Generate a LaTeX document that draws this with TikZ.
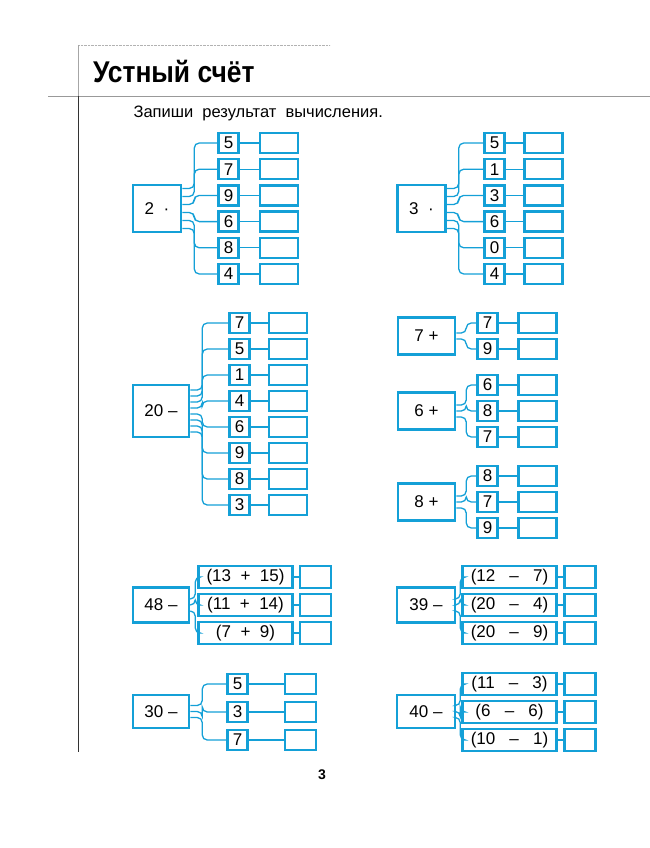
\documentclass[tikz,border=0pt]{standalone}
\usepackage{fontspec}
\setmainfont{Liberation Sans}
\usetikzlibrary{calc}
\definecolor{cb}{RGB}{20,160,215}
\newcommand\fan[5]{%
 \foreach \i in {1,...,#3}{%
   \pgfmathsetmacro\off{(\i-(#3+1)/2)*#4}%
   \draw[conn] ($(#1.east)+(0,\off)$) -- ++(#5,0) |- (#2\i.west);
 }}
\begin{document}
\begin{tikzpicture}[x=1pt,y=-1pt,
 box/.style={draw=cb,line width=2.5pt,font=\fontsize{17}{19}\selectfont,inner sep=0pt},
 nb/.style={box,minimum width=20pt,minimum height=20pt},
 ab/.style={box,minimum width=38pt,minimum height=20pt},
 eb/.style={box,minimum width=94pt,minimum height=22pt},
 sb/.style={box,minimum width=31pt,minimum height=22pt},
 conn/.style={draw=cb,line width=1.3pt,rounded corners=5pt}]
\useasboundingbox (0,0) rectangle (650,848);
% header
\draw[gray!60,densely dotted] (78,45) -- (330,45);
\draw[gray!70,line width=0.6pt] (78,45) -- (78,96);
\draw[gray!80,line width=0.8pt] (48,96) -- (650,96);
\draw[black!80,line width=0.8pt] (78,96) -- (78,752);
\node[anchor=west,font=\bfseries\fontsize{30}{32}\selectfont,xscale=0.88] (title) at (90,71) {Устный счёт};
\node[anchor=west,font=\fontsize{16.5}{18}\selectfont] (instr) at (130,113) {Запиши\ \ результат\ \ вычисления.};
% group 1
\node[box,minimum width=48pt,minimum height=47pt] (m1) at (157,208.5) {2\ \ ·};
\foreach \v [count=\i] in {5,7,9,6,8,4}{
 \node[nb] (a\i) at (228.5,{143+26.2*(\i-1)}) {\v};
 \node[ab] (aa\i) at (279,{143+26.2*(\i-1)}) {};
 \draw[conn] (a\i) -- (aa\i);}
\fan{m1}{a}{6}{8}{12}
% group 2
\node[box,minimum width=48pt,minimum height=47pt] (m2) at (421.5,208.5) {3\ \ ·};
\foreach \v [count=\i] in {5,1,3,6,0,4}{
 \node[nb] (b\i) at (494.5,{143+26.2*(\i-1)}) {\v};
 \node[ab] (bb\i) at (543.5,{143+26.2*(\i-1)}) {};
 \draw[conn] (b\i) -- (bb\i);}
\fan{m2}{b}{6}{8}{12}
% group 3
\node[box,minimum width=56pt,minimum height=52pt] (m3) at (161,411) {20 –};
\foreach \v [count=\i] in {7,5,1,4,6,9,8,3}{
 \node[nb] (c\i) at (239.5,{323+26*(\i-1)}) {\v};
 \node[ab] (cc\i) at (288,{323+26*(\i-1)}) {};
 \draw[conn] (c\i) -- (cc\i);}
\fan{m3}{c}{8}{6}{12}
% 7+
\node[box,minimum width=57pt,minimum height=37pt] (m4) at (426.5,336) {7 +};
\foreach \v [count=\i] in {7,9}{
 \node[nb] (d\i) at (487.5,{323+26*(\i-1)}) {\v};
 \node[ab] (dd\i) at (537.5,{323+26*(\i-1)}) {};
 \draw[conn] (d\i) -- (dd\i);}
\fan{m4}{d}{2}{6}{10}
% 6+
\node[box,minimum width=57pt,minimum height=37pt] (m5) at (426.5,411) {6 +};
\foreach \v [count=\i] in {6,8,7}{
 \node[nb] (e\i) at (487.5,{385+26*(\i-1)}) {\v};
 \node[ab] (ee\i) at (537.5,{385+26*(\i-1)}) {};
 \draw[conn] (e\i) -- (ee\i);}
\fan{m5}{e}{3}{6}{10}
% 8+
\node[box,minimum width=57pt,minimum height=37pt] (m6) at (426.5,502) {8 +};
\foreach \v [count=\i] in {8,7,9}{
 \node[nb] (f\i) at (487.5,{476+26*(\i-1)}) {\v};
 \node[ab] (ff\i) at (537.5,{476+26*(\i-1)}) {};
 \draw[conn] (f\i) -- (ff\i);}
\fan{m6}{f}{3}{6}{10}
% 48-
\node[box,minimum width=56pt,minimum height=35pt] (m7) at (161,605) {48 –};
\foreach \v [count=\i] in {{(13\ \ +\ \ 15)},{(11\ \ +\ \ 14)},{(7\ \ +\ \ 9)}}{
 \node[eb] (g\i) at (245.5,{577+28*(\i-1)}) {\v};
 \node[sb] (gg\i) at (315.5,{577+28*(\i-1)}) {};
 \draw[conn] (g\i) -- (gg\i);}
\fan{m7}{g}{3}{6}{5}
% 39-
\node[box,minimum width=58pt,minimum height=35pt] (m8) at (426,605) {39 –};
\foreach \v [count=\i] in {{(12\ \ \ –\ \ \ 7)},{(20\ \ \ –\ \ \ 4)},{(20\ \ \ –\ \ \ 9)}}{
 \node[eb] (h\i) at (509.5,{577+28*(\i-1)}) {\v};
 \node[sb] (hh\i) at (580,{577+28*(\i-1)}) {};
 \draw[conn] (h\i) -- (hh\i);}
\fan{m8}{h}{3}{6}{4}
% 30-
\node[box,minimum width=56pt,minimum height=33pt] (m9) at (161,711.5) {30 –};
\foreach \v [count=\i] in {5,3,7}{
 \node[nb] (k\i) at (237.5,{684+28*(\i-1)}) {\v};
 \node[sb,minimum height=20pt] (kk\i) at (300.5,{684+28*(\i-1)}) {};
 \draw[conn] (k\i) -- (kk\i);}
\fan{m9}{k}{3}{6}{12}
% 40-
\node[box,minimum width=58pt,minimum height=33pt] (m10) at (426,711.5) {40 –};
\foreach \v [count=\i] in {{(11\ \ \ –\ \ \ 3)},{(6\ \ \ –\ \ \ 6)},{(10\ \ \ –\ \ \ 1)}}{
 \node[eb] (p\i) at (509.5,{684+28*(\i-1)}) {\v};
 \node[sb] (pp\i) at (580,{684+28*(\i-1)}) {};
 \draw[conn] (p\i) -- (pp\i);}
\fan{m10}{p}{3}{6}{4}
\node[font=\bfseries\fontsize{14}{16}\selectfont] (pg) at (322,775) {3};
\end{tikzpicture}
\end{document}
